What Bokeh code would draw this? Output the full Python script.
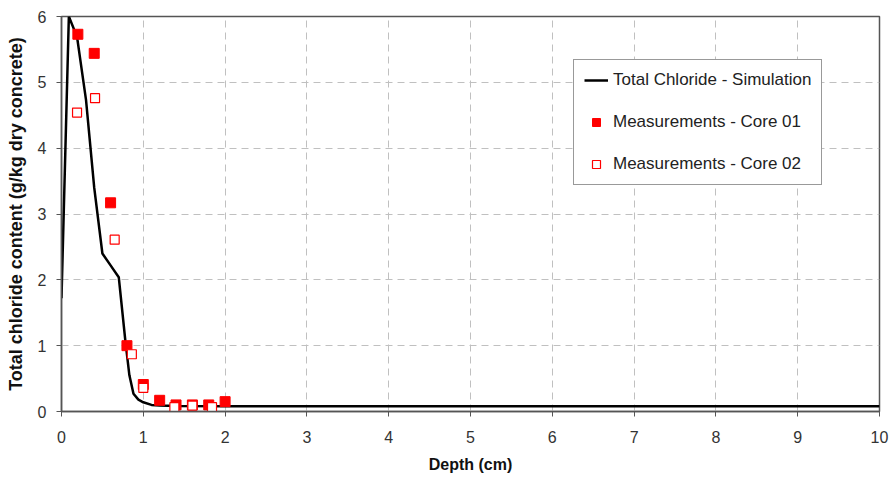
from bokeh.plotting import figure
from bokeh.models import Range1d, FixedTicker, Legend, LegendItem
from bokeh.embed import file_html
from bokeh.resources import INLINE

# Simulation curve
sim_depth = [0.0, 0.09, 0.19, 0.30, 0.40, 0.50, 0.60, 0.70, 0.78, 0.83, 0.88, 0.94, 1.00, 1.10, 1.20, 1.40, 2.0, 3.0, 5.0, 7.0, 10.0]
sim_cl = [1.72, 6.0, 5.69, 4.73, 3.40, 2.40, 2.22, 2.04, 1.08, 0.55, 0.27, 0.18, 0.14, 0.10, 0.09, 0.085, 0.08, 0.08, 0.08, 0.08, 0.08]

# Measurements
core01_depth = [0.2, 0.4, 0.6, 0.8, 1.0, 1.2, 1.4, 1.6, 1.8, 2.0]
core01_cl = [5.73, 5.44, 3.17, 1.00, 0.41, 0.17, 0.10, 0.10, 0.10, 0.15]
core02_depth = [0.19, 0.41, 0.65, 0.86, 1.0, 1.38, 1.6, 1.84]
core02_cl = [4.54, 4.76, 2.61, 0.87, 0.36, 0.065, 0.09, 0.065]

x_ticks = list(range(0, 11))
y_ticks = list(range(0, 7))

FONT = "Liberation Sans"

p = figure(width=890, height=483, output_backend="svg", toolbar_location=None,
           x_range=Range1d(0, 10), y_range=Range1d(0, 6),
           min_border_left=61, min_border_right=11, min_border_top=16, min_border_bottom=72)

p.outline_line_color = "#555555"
p.outline_line_width = 1.5

for ax in (p.xaxis[0], p.yaxis[0]):
    ax.axis_line_color = "#555555"
    ax.axis_line_width = 1.5
    ax.major_tick_line_color = "#555555"
    ax.major_tick_out = 5
    ax.major_tick_in = 0
    ax.minor_tick_line_color = None
    ax.major_label_text_font = FONT
    ax.major_label_text_font_size = "16px"
    ax.major_label_text_color = "#333333"
    ax.axis_label_text_font = FONT
    ax.axis_label_text_font_style = "bold"
    ax.axis_label_text_color = "#111111"

p.xaxis[0].axis_label_text_font_size = "16px"
p.yaxis[0].axis_label_text_font_size = "18px"
p.xaxis[0].ticker = FixedTicker(ticks=x_ticks)
p.yaxis[0].ticker = FixedTicker(ticks=y_ticks)
p.xaxis[0].axis_label = "Depth (cm)"
p.yaxis[0].axis_label = "Total chloride content (g/kg dry concrete)"
p.xaxis[0].major_label_standoff = 14
p.yaxis[0].major_label_standoff = 10
p.xaxis[0].axis_label_standoff = 10
p.yaxis[0].axis_label_standoff = 9

p.grid.grid_line_color = "#c0c0c0"
p.grid.grid_line_dash = "7 5"
p.grid.grid_line_width = 1

r_sim = p.line(sim_depth, sim_cl, line_color="black", line_width=2.5)
r_c1 = p.scatter(core01_depth, core01_cl, marker="square", size=10,
                 fill_color="#ff0000", line_color="#ff0000")
r_c2 = p.scatter(core02_depth, core02_cl, marker="square", size=9,
                 fill_color="white", line_color="#ff0000", line_width=1.2)

legend = Legend(items=[
    LegendItem(label="Total Chloride - Simulation", renderers=[r_sim]),
    LegendItem(label="Measurements - Core 01", renderers=[r_c1]),
    LegendItem(label="Measurements - Core 02", renderers=[r_c2]),
], location=(512, 226))
legend.border_line_color = "#333333"
legend.border_line_width = 1.5
legend.background_fill_color = "white"
legend.background_fill_alpha = 1
legend.padding = 10
legend.margin = 0
legend.spacing = 22
legend.glyph_width = 24
legend.glyph_height = 20
legend.label_height = 20
legend.label_standoff = 5
legend.label_text_font = FONT
legend.label_text_font_size = "17px"
legend.label_text_color = "#222222"
p.add_layout(legend, "center")

open("out.html", "w").write(file_html(p, INLINE))
